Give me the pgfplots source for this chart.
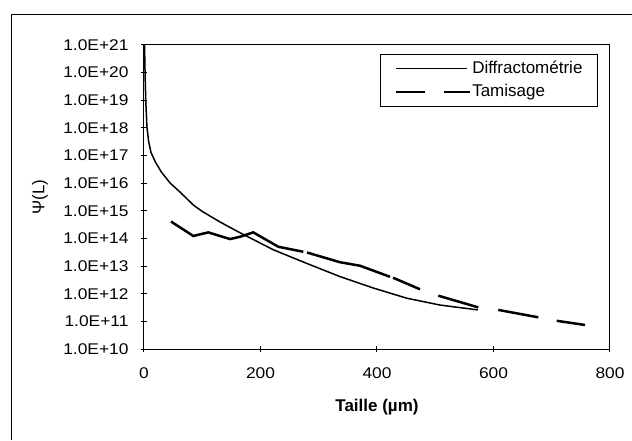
\documentclass[border=0pt]{standalone}
\usepackage{pgfplots}
\pgfplotsset{compat=1.18}
\usepackage{fontspec}
\setmainfont{Liberation Sans}
\newfontfamily\tickfont{Liberation Sans}[FakeStretch=1.12]
\pgfplotsset{tam/.style={black, line width=2.5pt, line cap=butt}}
\begin{document}
\begin{tikzpicture}[x=1pt,y=1pt]
\useasboundingbox (0,0) rectangle (632,440);
\draw[line width=1pt] (11,0) -- (11,425) -- (632,425);
\begin{axis}[
  at={(144pt,91pt)}, anchor=south west, scale only axis,
  width=466pt, height=304pt,
  xmin=0, xmax=800, ymode=log, ymin=1e10, ymax=1e21,
  xtick={0,200,400,600,800}, xticklabels={0,200,400,600,800},
  ytick={1e10,1e11,1e12,1e13,1e14,1e15,1e16,1e17,1e18,1e19,1e20,1e21},
  yticklabels={1.0E+10,1.0E+11,1.0E+12,1.0E+13,1.0E+14,1.0E+15,1.0E+16,1.0E+17,1.0E+18,1.0E+19,1.0E+20,1.0E+21},
  yminorticks=false, xminorticks=false,
  tick align=center, major tick length=6pt,
  xtick pos=bottom, ytick pos=left,
  axis line style={line width=1pt},
  every tick/.style={black, line width=1pt},
  ticklabel style={font=\tickfont\fontsize{15.5}{18}\selectfont},
  yticklabel style={xshift=-9pt},
  xticklabel style={yshift=-12pt},
  xlabel={Taille (µm)},
  ylabel={Ψ(L)},
  xlabel style={font=\fontsize{17}{20}\selectfont\bfseries, at={(axis description cs:0.5,-0.19)}, anchor=center},
  ylabel style={font=\fontsize{17}{20}\selectfont, at={(axis description cs:-0.223,0.5)}, anchor=center},
  legend style={draw=black, line width=0.8pt, at={(0.974,0.970)}, anchor=north east,
    inner xsep=14pt, inner ysep=2.5pt, font=\fontsize{17}{20}\selectfont,
    row sep=0pt, column sep=0pt,
    nodes={inner ysep=3.7pt, inner xsep=1pt, text height=12.5pt, text depth=3.5pt}},
  legend cell align=left,
]
\addplot[black, line width=1.5pt, line join=round,
  legend image code/.code={\draw[black, line width=1.5pt] (0pt,0pt) -- (71pt,0pt);}]
  coordinates {
  (0.5,3e21) (1,7.9e20) (2,6.3e19) (3,1e19) (5,1.1e18) (8,3.2e17) (12,1.3e17)
  (20,5.6e16) (30,2.5e16) (45,1e16) (60,5.2e15) (85,1.6e15) (100,9.5e14)
  (130,4e14) (165,1.6e14) (222,3.9e13) (279,1.26e13) (336,4.2e12)
  (394,1.6e12) (451,6.9e11) (508,3.9e11) (573,2.6e11)
  };
\addlegendentry{Diffractométrie}
\addplot[tam,
  legend image code/.code={\draw[black, line width=2.5pt] (0pt,0pt) -- (29pt,0pt) (48pt,0pt) -- (74pt,0pt);}]
  coordinates {
  (46.4,4.1e14) (84.6,1.23e14) (110.4,1.66e14) (147.6,9.5e13) (164.8,1.15e14)
  (187.6,1.66e14) (230.6,5.0e13) (273.5,3.3e13)
  };
\addlegendentry{Tamisage}
\addplot[tam, forget plot] coordinates {(279.8,3.1e13) (336.5,1.38e13) (370.8,1.03e13) (422.3,4.1e12)};
\addplot[tam, forget plot] coordinates {(427.5,3.8e12) (473.8,1.45e12)};
\addplot[tam, forget plot] coordinates {(505.2,8.5e11) (573.9,3.2e11)};
\addplot[tam, forget plot] coordinates {(608.2,2.6e11) (676.9,1.4e11)};
\addplot[tam, forget plot] coordinates {(708.5,1.05e11) (757.1,7.4e10)};
\end{axis}
\end{tikzpicture}
\end{document}
